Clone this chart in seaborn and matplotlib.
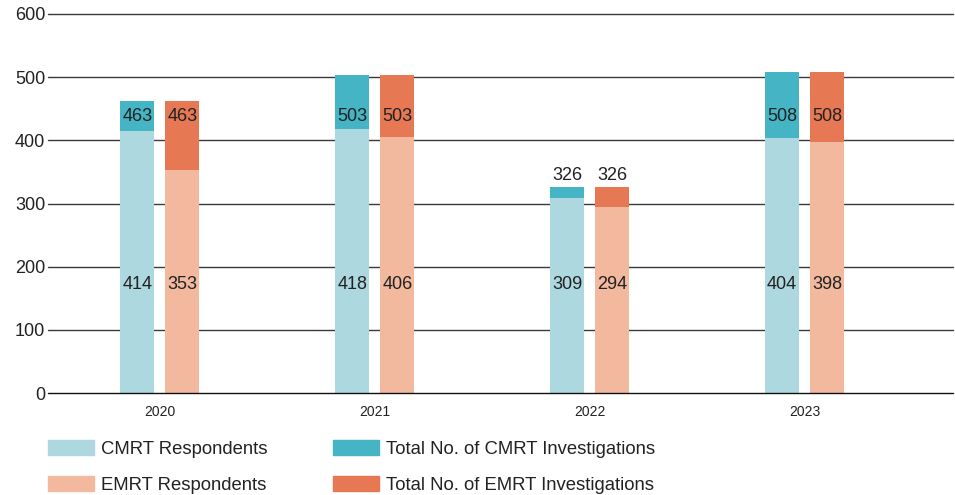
import matplotlib
matplotlib.use("Agg")
import matplotlib.pyplot as plt
import seaborn as sns
import pandas as pd
from matplotlib.patches import Patch

years = ["2020", "2021", "2022", "2023"]
cmrt_resp = [414, 418, 309, 404]
emrt_resp = [353, 406, 294, 398]
cmrt_total = [463, 503, 326, 508]
emrt_total = [463, 503, 326, 508]

c_light_blue = "#ADD8DF"
c_teal = "#45B5C5"
c_peach = "#F2B99F"
c_orange = "#E67854"

sns.set_theme(style="white")
plt.rcParams["font.family"] = ["Liberation Sans", "DejaVu Sans"]

W, H = 955, 495
fig = plt.figure(figsize=(W / 100, H / 100), dpi=100)
ax = fig.add_axes([48 / W, 1 - 393 / H, (953 - 48) / W, (393 - 14) / H])

tot = pd.DataFrame({"year": years * 2,
                    "kind": ["CMRT"] * 4 + ["EMRT"] * 4,
                    "value": cmrt_total + emrt_total})
resp = pd.DataFrame({"year": years * 2,
                     "kind": ["CMRT"] * 4 + ["EMRT"] * 4,
                     "value": cmrt_resp + emrt_resp})

for y in range(0, 700, 100):
    ax.axhline(y, color="#3a3a3a" if y else "#111111", lw=1.0, zorder=0 if y else 4,
               clip_on=False)

sns.barplot(data=tot, x="year", y="value", hue="kind", hue_order=["CMRT", "EMRT"],
            palette=[c_teal, c_orange], width=0.42, gap=0.25, dodge=True,
            saturation=1, errorbar=None, legend=False, ax=ax, zorder=2, linewidth=0)
sns.barplot(data=resp, x="year", y="value", hue="kind", hue_order=["CMRT", "EMRT"],
            palette=[c_light_blue, c_peach], width=0.42, gap=0.25, dodge=True,
            saturation=1, errorbar=None, legend=False, ax=ax, zorder=3, linewidth=0)

off = 0.105
for i in range(len(years)):
    for sgn, rv, tv in [(-1, cmrt_resp[i], cmrt_total[i]), (1, emrt_resp[i], emrt_total[i])]:
        x = i + sgn * off
        ax.text(x, 172, str(rv), ha="center", va="center", fontsize=13,
                color="#222222", zorder=5)
        ty = 438 if tv > 460 else tv + 19
        ax.text(x, ty, str(tv), ha="center", va="center", fontsize=13,
                color="#222222", zorder=5)

ax.set_xlim(-0.52, 3.69)
ax.set_ylim(0, 600)
ax.set_yticks(range(0, 700, 100))
ax.set_xlabel("")
ax.set_ylabel("")
for s in ax.spines.values():
    s.set_visible(False)
ax.tick_params(axis="y", which="both", left=False, length=0,
               labelsize=13, labelcolor="#222222", pad=2)
ax.tick_params(axis="x", bottom=False, labelsize=10, labelcolor="#222222", pad=3)

leg_kw = dict(frameon=False, fontsize=13.3, handlelength=2.49, handleheight=0.87,
              labelspacing=0.97, handletextpad=0.4, borderpad=0, borderaxespad=0,
              labelcolor="#222222", loc="upper left")
leg1 = fig.legend([Patch(color=c_light_blue), Patch(color=c_peach)],
                  ["CMRT Respondents", "EMRT Respondents"],
                  bbox_to_anchor=(48 / W, 1 - 440 / H), **leg_kw)
leg2 = fig.legend([Patch(color=c_teal), Patch(color=c_orange)],
                  ["Total No. of CMRT Investigations", "Total No. of EMRT Investigations"],
                  bbox_to_anchor=(333 / W, 1 - 440 / H), **leg_kw)

fig.savefig("out.png", dpi=100)
